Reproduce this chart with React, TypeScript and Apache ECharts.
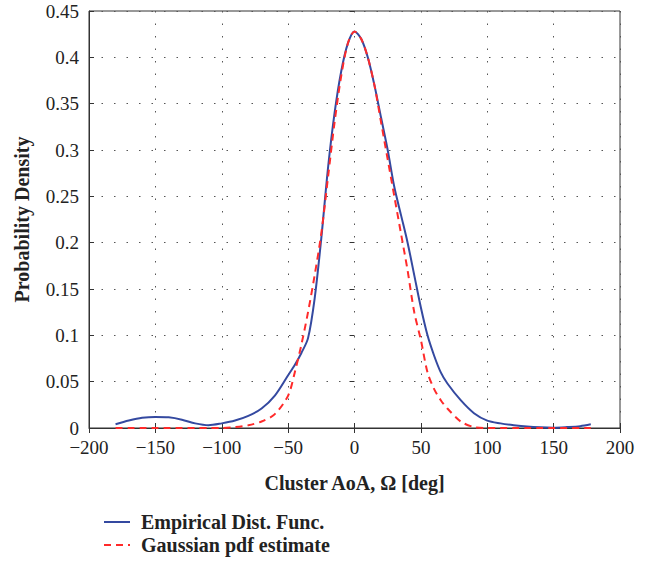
import React, { useEffect, useRef } from "react";
import * as echarts from "echarts";

const angles = [-180, -170, -160, -150, -140, -130, -120, -110, -100, -90, -80, -70, -60, -50, -45, -40, -35, -30, -25, -20, -15, -10, -5, 0, 5, 10, 15, 20, 25, 30, 35, 40, 45, 50, 55, 60, 65, 70, 80, 90, 100, 110, 120, 130, 140, 150, 160, 170, 178];

const empirical = [0.004, 0.008, 0.011, 0.012, 0.0115, 0.009, 0.005, 0.003, 0.005, 0.008, 0.013, 0.021, 0.035, 0.057, 0.068, 0.081, 0.097, 0.14, 0.205, 0.28, 0.34, 0.385, 0.415, 0.428, 0.42, 0.4, 0.37, 0.335, 0.3, 0.26, 0.23, 0.2, 0.165, 0.13, 0.1, 0.078, 0.06, 0.048, 0.03, 0.016, 0.008, 0.005, 0.003, 0.0015, 0.0007, 0.0004, 0.001, 0.002, 0.004];

const gaussian = [0, 0, 0, 0, 0, 0, 0, 0, 0, 0.001, 0.003, 0.007, 0.015, 0.035, 0.06, 0.09, 0.125, 0.165, 0.21, 0.27, 0.33, 0.38, 0.415, 0.428, 0.42, 0.4, 0.37, 0.33, 0.29, 0.25, 0.21, 0.17, 0.125, 0.095, 0.06, 0.042, 0.03, 0.021, 0.007, 0.001, 0, 0, 0, 0, 0, 0, 0, 0, 0];

const xTicks = [-200, -150, -100, -50, 0, 50, 100, 150, 200];
const yTicks = [0, 0.05, 0.1, 0.15, 0.2, 0.25, 0.3, 0.35, 0.4, 0.45];

const seriesNames = ["Empirical Dist. Func.", "Gaussian pdf estimate"];

const FONT = "'Liberation Serif', 'DejaVu Serif', serif";
const BLUE = "#3449a0";
const RED = "#ff2a2a";

export default function App() {
  const ref = useRef<HTMLDivElement>(null);
  useEffect(() => {
    if (!ref.current) return;
    const chart = echarts.init(ref.current, undefined, { renderer: "svg" });
    const split = { show: true, lineStyle: { color: "#555", type: [1.5, 11] as any, width: 1 } };
    const tick = { show: true, inside: true, length: 5, lineStyle: { color: "#333" } };
    chart.setOption({
      animation: false,
      textStyle: { fontFamily: FONT },
      grid: { left: 89, right: 34, top: 11, bottom: 141, show: true, borderColor: "#333", borderWidth: 1 },
      legend: {
        orient: "vertical",
        left: 98,
        top: 507,
        itemWidth: 26,
        itemHeight: 10,
        itemGap: 3,
        itemStyle: { opacity: 0 },
        textStyle: { fontFamily: FONT, fontSize: 20, fontWeight: "bold", color: "#222", padding: [0, 0, 0, 6] },
        data: seriesNames,
      },
      xAxis: [
        {
          type: "value",
          min: xTicks[0],
          max: xTicks[xTicks.length - 1],
          interval: 50,
          axisLine: { show: true, onZero: false, lineStyle: { color: "#333" } },
          axisTick: tick,
          axisLabel: {
            fontFamily: FONT, fontSize: 19, lineHeight: 15, color: "#222", margin: 12,
            formatter: (v: number) => String(v).replace("-", "\u2212"),
          },
          splitLine: split,
          name: "Cluster AoA, Ω [deg]",
          nameLocation: "middle",
          nameGap: 45,
          nameTextStyle: { fontFamily: FONT, fontSize: 20, fontWeight: "bold", color: "#222" },
        },
        {
          type: "value",
          position: "top",
          min: xTicks[0],
          max: xTicks[xTicks.length - 1],
          interval: 50,
          axisLine: { show: false },
          axisTick: tick,
          axisLabel: { show: false },
          splitLine: { show: false },
        },
      ],
      yAxis: [
        {
          type: "value",
          min: yTicks[0],
          max: yTicks[yTicks.length - 1],
          interval: 0.05,
          axisLine: { show: true, onZero: false, lineStyle: { color: "#333" } },
          axisTick: tick,
          axisLabel: {
            fontFamily: FONT, fontSize: 19, lineHeight: 15, color: "#222", margin: 10,
            formatter: (v: number) => String(Number(v.toFixed(2))),
          },
          splitLine: split,
          name: "Probability Density",
          nameLocation: "middle",
          nameGap: 57,
          nameTextStyle: { fontFamily: FONT, fontSize: 20, fontWeight: "bold", color: "#222" },
        },
        {
          type: "value",
          position: "right",
          min: yTicks[0],
          max: yTicks[yTicks.length - 1],
          interval: 0.05,
          axisLine: { show: false },
          axisTick: tick,
          axisLabel: { show: false },
          splitLine: { show: false },
        },
      ],
      series: [
        {
          name: seriesNames[0],
          type: "line",
          smooth: 0.3,
          symbol: "none",
          data: angles.map((a, i) => [a, empirical[i]]),
          lineStyle: { color: BLUE, width: 2 },
          itemStyle: { color: BLUE },
          z: 2,
        },
        {
          name: seriesNames[1],
          type: "line",
          smooth: 0.3,
          symbol: "none",
          data: angles.map((a, i) => [a, gaussian[i]]),
          lineStyle: { color: RED, width: 2, type: [7, 5] as any },
          itemStyle: { color: RED },
          z: 3,
        },
      ],
    });
    return () => chart.dispose();
  }, []);
  return <div ref={ref} style={{ width: 654, height: 569, position: "absolute", left: 0, top: 0, background: "#fff" }} />;
}
